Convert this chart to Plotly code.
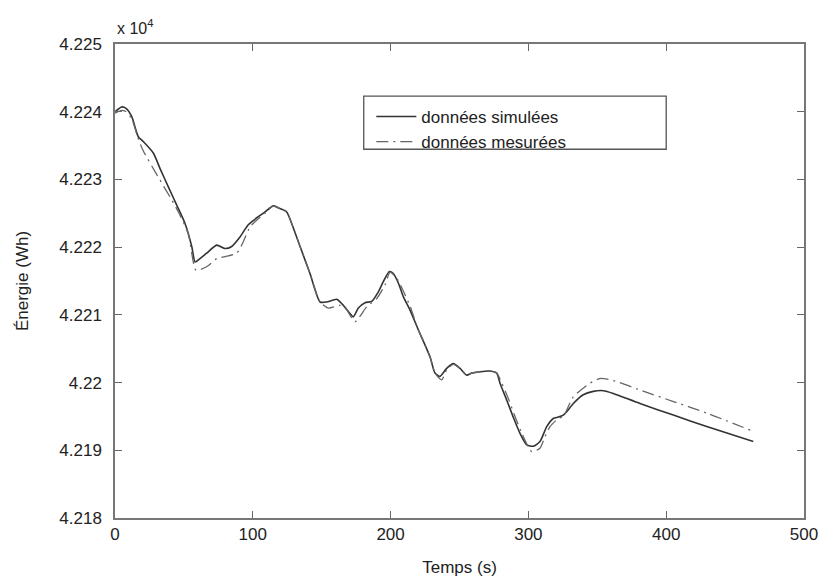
import plotly.graph_objects as go

# Time (s) and energy (x 10^4 Wh)
t_sim = [0, 4.9, 8.0, 12.1, 16.9, 20.5, 27.8, 32.7, 38.7, 44.8, 50.8, 55.7, 58.1, 60.4,
         66.5, 73.8, 79.8, 84.7, 90.7, 96.7, 104.0, 108.9, 114.9, 119.7, 124.6, 128.2,
         134.3, 141.5, 148.8, 153.6, 160.9, 165.7, 170.5, 172.9, 176.6, 181.4, 186.3,
         191.1, 194.7, 199.1, 202.0, 205.6, 209.2, 214.1, 220.1, 228.6, 232.2, 235.8,
         240.7, 245.5, 250.4, 255.2, 258.9, 264.9, 272.1, 277.0, 279.4, 284.3, 289.0,
         293.9, 298.8, 303.6, 308.4, 313.3, 318.1, 321.7, 325.3, 327.8, 332.6, 339.8,
         347.1, 354.4, 361.6, 381.0, 405.2, 429.4, 463.2]
e_sim = [4.22400, 4.22407, 4.22405, 4.22393, 4.22363, 4.22356, 4.22339, 4.22316, 4.22289,
         4.22262, 4.22235, 4.22201, 4.22178, 4.22181, 4.22191, 4.22203, 4.22198, 4.22201,
         4.22215, 4.22233, 4.22245, 4.22252, 4.22261, 4.22257, 4.22252, 4.22235, 4.22201,
         4.22161, 4.22119, 4.22119, 4.22123, 4.22114, 4.22102, 4.22097, 4.22110, 4.22118,
         4.22120, 4.22134, 4.22149, 4.22164, 4.22161, 4.22147, 4.22127, 4.22107, 4.22078,
         4.22038, 4.22014, 4.22009, 4.22021, 4.22028, 4.22021, 4.22011, 4.22014, 4.22016,
         4.22017, 4.22014, 4.21999, 4.21974, 4.21949, 4.21925, 4.21908, 4.21906, 4.21913,
         4.21935, 4.21947, 4.21949, 4.21952, 4.21957, 4.21969, 4.21982, 4.21987, 4.21988,
         4.21984, 4.21969, 4.21952, 4.21935, 4.21913]

t_mes = [0, 4.9, 8.0, 12.1, 16.9, 20.3, 29.8, 41.1, 46.0, 53.2, 58.8, 66.5, 73.8, 79.8,
         88.3, 93.1, 98.0, 104.0, 108.9, 114.9, 119.7, 124.6, 128.2, 134.3, 141.5, 148.8,
         154.8, 163.3, 166.9, 174.2, 182.7, 189.9, 195.9, 199.6, 204.4, 208.1, 214.1,
         220.1, 228.6, 232.2, 237.1, 240.7, 245.5, 250.4, 255.2, 258.9, 264.9, 272.1,
         277.0, 280.5, 285.5, 290.3, 295.5, 302.4, 308.4, 312.0, 315.7, 321.7, 325.3,
         332.6, 344.7, 352.0, 361.6, 381.0, 405.2, 429.4, 464.4]
e_mes = [4.22398, 4.22402, 4.22400, 4.22390, 4.22360, 4.22343, 4.22309, 4.22270, 4.22252,
         4.22220, 4.22166, 4.22171, 4.22183, 4.22186, 4.22191, 4.22208, 4.22230, 4.22242,
         4.22250, 4.22261, 4.22257, 4.22252, 4.22235, 4.22201, 4.22161, 4.22119, 4.22110,
         4.22114, 4.22111, 4.22090, 4.22112, 4.22124, 4.22144, 4.22163, 4.22154, 4.22140,
         4.22113, 4.22078, 4.22038, 4.22014, 4.22004, 4.22019, 4.22027, 4.22021, 4.22011,
         4.22014, 4.22016, 4.22017, 4.22014, 4.22000, 4.21976, 4.21950, 4.21924, 4.21898,
         4.21903, 4.21920, 4.21935, 4.21947, 4.21950, 4.21979, 4.21999, 4.22006, 4.22003,
         4.21989, 4.21972, 4.21955, 4.21927]

x_ticks = [0, 100, 200, 300, 400, 500]
y_ticks = [4.218, 4.219, 4.220, 4.221, 4.222, 4.223, 4.224, 4.225]
y_ticktext = ["4.218", "4.219", "4.22", "4.221", "4.222", "4.223", "4.224", "4.225"]

FONT = "Liberation Sans, Arial, sans-serif"

fig = go.Figure()
fig.add_trace(go.Scatter(x=t_sim, y=e_sim, mode="lines", name="données simulées",
                         line=dict(color="#333333", width=1.6, shape="spline", smoothing=0.6)))
fig.add_trace(go.Scatter(x=t_mes, y=e_mes, mode="lines", name="données mesurées",
                         line=dict(color="#666666", width=1.3, dash="12px,5px,2px,5px",
                                   shape="spline", smoothing=0.6)))

axis_common = dict(showline=True, linecolor="#777777", linewidth=1.5, mirror="ticks",
                   ticks="inside", ticklen=7, tickcolor="#666666", tickwidth=1.3,
                   showgrid=False, zeroline=False, automargin=False,
                   tickfont=dict(family=FONT, size=17, color="#222222"))

fig.update_xaxes(range=[0, 500], tickvals=x_ticks, **axis_common,
                 title=dict(text="Temps (s)", font=dict(family=FONT, size=17, color="#222222"),
                            standoff=18))
fig.update_yaxes(range=[4.218, 4.225], tickvals=y_ticks, ticktext=y_ticktext,
                 ticklabelstandoff=8, **axis_common,
                 title=dict(text="Énergie (Wh)", font=dict(family=FONT, size=17, color="#222222"),
                            standoff=26))

fig.add_annotation(text="x 10<sup>4</sup>", xref="paper", yref="paper", x=0, y=1.036,
                   xanchor="left", yanchor="middle", showarrow=False,
                   font=dict(family=FONT, size=16, color="#222222"))

# legend frame
fig.add_shape(type="rect", xref="paper", yref="paper", x0=0.361, x1=0.800, y0=0.778, y1=0.890,
              line=dict(color="#555555", width=1.3), fillcolor="white", layer="below")

fig.update_layout(
    width=824, height=577,
    margin=dict(l=115, r=20, t=44, b=59),
    paper_bgcolor="white", plot_bgcolor="white",
    showlegend=True,
    legend=dict(x=0.372, y=0.884, xanchor="left", yanchor="top", bgcolor="rgba(0,0,0,0)",
                borderwidth=0, font=dict(family=FONT, size=17, color="#222222"),
                tracegroupgap=0, itemwidth=40),
)

fig.write_html("out.html")
